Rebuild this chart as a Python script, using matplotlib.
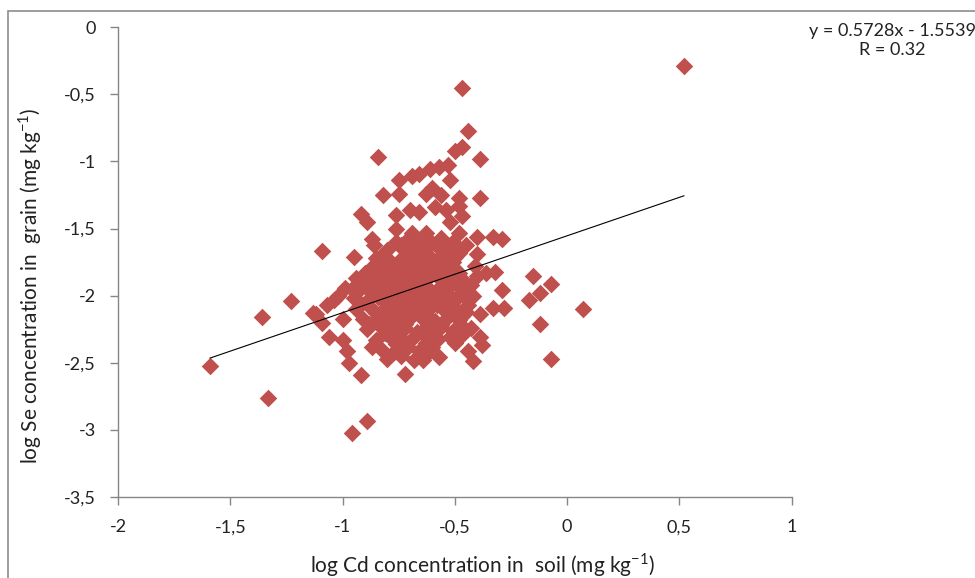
import matplotlib.pyplot as plt
import numpy as np
from matplotlib.patches import Rectangle

plt.rcParams['font.family'] = ['Lato', 'DejaVu Sans']
plt.rcParams['mathtext.fontset'] = 'custom'
plt.rcParams['mathtext.rm'] = 'Lato'

# scattered samples around the main cloud (log10 mg/kg)
outer_cd = [0.52, -0.47, -0.44, -0.47, -0.50, -0.39, -0.84, -0.53, -0.57, -0.61,
            -0.66, -0.69, -0.52, -0.75, -0.82, -0.75, -0.63, -0.60, -0.56, -0.48,
            -0.39, -0.59, -0.54, -0.48, -0.92, -0.89, -0.76, -0.70, -0.66, -0.52,
            -0.47, -0.76, -0.69, -0.63, -0.48, -0.40, -0.33, -0.29, -0.87, -0.70,
            -0.86, -1.09, -0.95, -0.40, -0.40, -0.36, -0.32, -0.29, -0.33, -0.28,
            -0.39, -0.15, -0.07, -0.17, -0.12, 0.07, -0.12, -0.07, -0.47, -0.39,
            -0.38, -0.50, -0.44, -0.42, -0.57, -0.64, -0.72, -0.92, -0.97, -0.87,
            -0.98, -1.06, -1.00, -1.12, -1.09, -1.07, -1.04, -0.99, -1.00, -0.85,
            -0.92, -1.02, -1.13, -1.59, -1.36, -1.23, -1.33, -0.89, -0.96,
            -0.43, -0.42, -0.44, -0.41, -0.43]
outer_se = [-0.29, -0.45, -0.77, -0.89, -0.92, -0.98, -0.97, -1.03, -1.04, -1.06,
            -1.09, -1.11, -1.14, -1.14, -1.25, -1.24, -1.24, -1.20, -1.25, -1.27,
            -1.27, -1.34, -1.36, -1.33, -1.39, -1.45, -1.40, -1.36, -1.38, -1.45,
            -1.41, -1.50, -1.53, -1.53, -1.53, -1.56, -1.56, -1.58, -1.58, -1.59,
            -1.62, -1.67, -1.71, -1.69, -1.85, -1.83, -1.82, -1.96, -2.09, -2.09,
            -2.14, -1.85, -1.91, -2.03, -1.98, -2.10, -2.21, -2.47, -2.29, -2.31,
            -2.37, -2.35, -2.41, -2.49, -2.46, -2.48, -2.58, -2.59, -2.50, -2.38,
            -2.41, -2.31, -2.33, -2.14, -2.20, -2.07, -2.03, -1.94, -2.17, -1.83,
            -1.94, -2.00, -2.13, -2.52, -2.16, -2.04, -2.76, -2.93, -3.02,
            -1.92, -2.00, -2.07, -1.78, -2.24]

# dense centre of the cloud
core_cd = [-0.76, -0.71, -0.66, -0.61, -0.56, -0.51, -0.45,
           -0.80, -0.74, -0.69, -0.63, -0.58, -0.53, -0.48,
           -0.85, -0.79, -0.73, -0.68, -0.62, -0.57, -0.51,
           -0.87, -0.82, -0.76, -0.71, -0.65, -0.60, -0.55, -0.50,
           -0.94, -0.88, -0.83, -0.78, -0.72, -0.67, -0.61, -0.56, -0.51, -0.46,
           -0.96, -0.90, -0.85, -0.79, -0.74, -0.69, -0.63, -0.58, -0.53, -0.47,
           -0.95, -0.89, -0.84, -0.78, -0.72, -0.67, -0.62, -0.56, -0.51, -0.45,
           -0.94, -0.88, -0.82, -0.77, -0.71, -0.66, -0.60, -0.55, -0.50, -0.45,
           -0.91, -0.86, -0.80, -0.75, -0.69, -0.64, -0.59, -0.53, -0.48,
           -0.89, -0.83, -0.78, -0.72, -0.67, -0.62, -0.56, -0.51, -0.46,
           -0.85, -0.79, -0.74, -0.69, -0.63, -0.58, -0.52,
           -0.83, -0.77, -0.72, -0.66, -0.60,
           -0.80, -0.74, -0.68]
core_se = [-1.60, -1.58, -1.61, -1.59, -1.57, -1.60, -1.62,
           -1.66, -1.64, -1.67, -1.65, -1.63, -1.66, -1.68,
           -1.72, -1.74, -1.71, -1.73, -1.70, -1.72, -1.75,
           -1.79, -1.81, -1.78, -1.80, -1.82, -1.79, -1.77, -1.80,
           -1.87, -1.85, -1.88, -1.86, -1.89, -1.87, -1.85, -1.88, -1.86, -1.89,
           -1.95, -1.93, -1.96, -1.94, -1.97, -1.95, -1.93, -1.96, -1.94, -1.97,
           -2.02, -2.04, -2.01, -2.03, -2.00, -2.02, -2.04, -2.01, -2.03, -2.02,
           -2.10, -2.08, -2.11, -2.09, -2.12, -2.10, -2.08, -2.11, -2.09, -2.12,
           -2.17, -2.19, -2.16, -2.18, -2.15, -2.17, -2.19, -2.16, -2.18,
           -2.25, -2.23, -2.26, -2.24, -2.27, -2.25, -2.23, -2.26, -2.24,
           -2.33, -2.31, -2.34, -2.32, -2.35, -2.33, -2.31,
           -2.40, -2.42, -2.39, -2.41, -2.38,
           -2.47, -2.45, -2.48]

# samples lying between the rows of the centre
mid_cd = [-0.74, -0.68, -0.58, -0.53,
          -0.82, -0.71, -0.66, -0.55, -0.50,
          -0.84, -0.79, -0.68, -0.63, -0.52,
          -0.90, -0.80, -0.74, -0.69, -0.58, -0.53, -0.48,
          -0.93, -0.87, -0.76, -0.71, -0.65, -0.55, -0.49,
          -0.87, -0.82, -0.70, -0.65, -0.59, -0.48,
          -0.92, -0.81, -0.75, -0.69, -0.58, -0.53,
          -0.85, -0.79, -0.68, -0.62, -0.52, -0.47,
          -0.88, -0.77, -0.72, -0.61, -0.56,
          -0.81, -0.75, -0.65, -0.59, -0.49,
          -0.76, -0.71, -0.61,
          -0.74, -0.63]
mid_se = [-1.62, -1.63, -1.62, -1.64,
          -1.69, -1.70, -1.69, -1.70, -1.71,
          -1.76, -1.75, -1.76, -1.74, -1.76,
          -1.83, -1.82, -1.83, -1.85, -1.82, -1.84, -1.83,
          -1.91, -1.90, -1.91, -1.89, -1.92, -1.91, -1.92,
          -1.98, -2.00, -1.97, -2.00, -1.98, -2.00,
          -2.06, -2.05, -2.06, -2.08, -2.07, -2.06,
          -2.13, -2.15, -2.12, -2.15, -2.14, -2.15,
          -2.21, -2.20, -2.21, -2.20, -2.22,
          -2.28, -2.30, -2.27, -2.30, -2.29,
          -2.36, -2.38, -2.35,
          -2.43, -2.44]

log_cd = np.array(outer_cd + core_cd + mid_cd)
log_se = np.array(outer_se + core_se + mid_se)

# linear trend as reported
slope = 0.5728
intercept = -1.5539
r_value = 0.32

x_ticks = [-2, -1.5, -1, -0.5, 0, 0.5, 1]
x_ticklabels = ['-2', '-1,5', '-1', '-0,5', '0', '0,5', '1']
y_ticks = [0, -0.5, -1, -1.5, -2, -2.5, -3, -3.5]
y_ticklabels = ['0', '-0,5', '-1', '-1,5', '-2', '-2,5', '-3', '-3,5']

fig = plt.figure(figsize=(9.75, 5.78), dpi=100)
ax = fig.add_axes([0.121, 0.140, 0.691, 0.813])

ax.scatter(log_cd, log_se, marker='D', s=80, color='#C0504D', linewidths=0, zorder=2)

xs = np.array([log_cd.min(), log_cd.max()])
ax.plot(xs, slope * xs + intercept, color='black', lw=0.8, zorder=3)

ax.set_xlim(-2, 1)
ax.set_ylim(-3.5, 0)
ax.set_xticks(x_ticks)
ax.set_xticklabels(x_ticklabels)
ax.set_yticks(y_ticks)
ax.set_yticklabels(y_ticklabels)

for side in ['top', 'right']:
    ax.spines[side].set_visible(False)
for side in ['left', 'bottom']:
    ax.spines[side].set_color('#868686')
    ax.spines[side].set_linewidth(1)
ax.tick_params(axis='both', direction='out', length=6, width=1, color='#868686',
               labelsize=13, labelcolor='#222222')
ax.tick_params(axis='x', pad=10)
ax.tick_params(axis='y', pad=10)

fig.text(0.495, 0.022, 'log Cd concentration in  soil (mg kg$^{-1}$)',
         ha='center', va='center', fontsize=15, color='#222222')
fig.text(0.031, 0.505, 'log Se concentration in  grain (mg kg$^{-1}$)',
         ha='center', va='center', rotation=90, fontsize=15, color='#222222')

fig.text(0.915, 0.930, 'y = 0.5728x - 1.5539\nR = %.2f' % r_value,
         ha='center', va='center', multialignment='center',
         fontsize=13, color='#222222', linespacing=1.2)

# chart frame
fig.patches.append(Rectangle((8 / 975, -0.05), 1.2, 1 - 11 / 578 + 0.05,
                             transform=fig.transFigure, fill=False,
                             edgecolor='#8c8c8c', lw=1.2))

plt.savefig('out.png', dpi=100)
